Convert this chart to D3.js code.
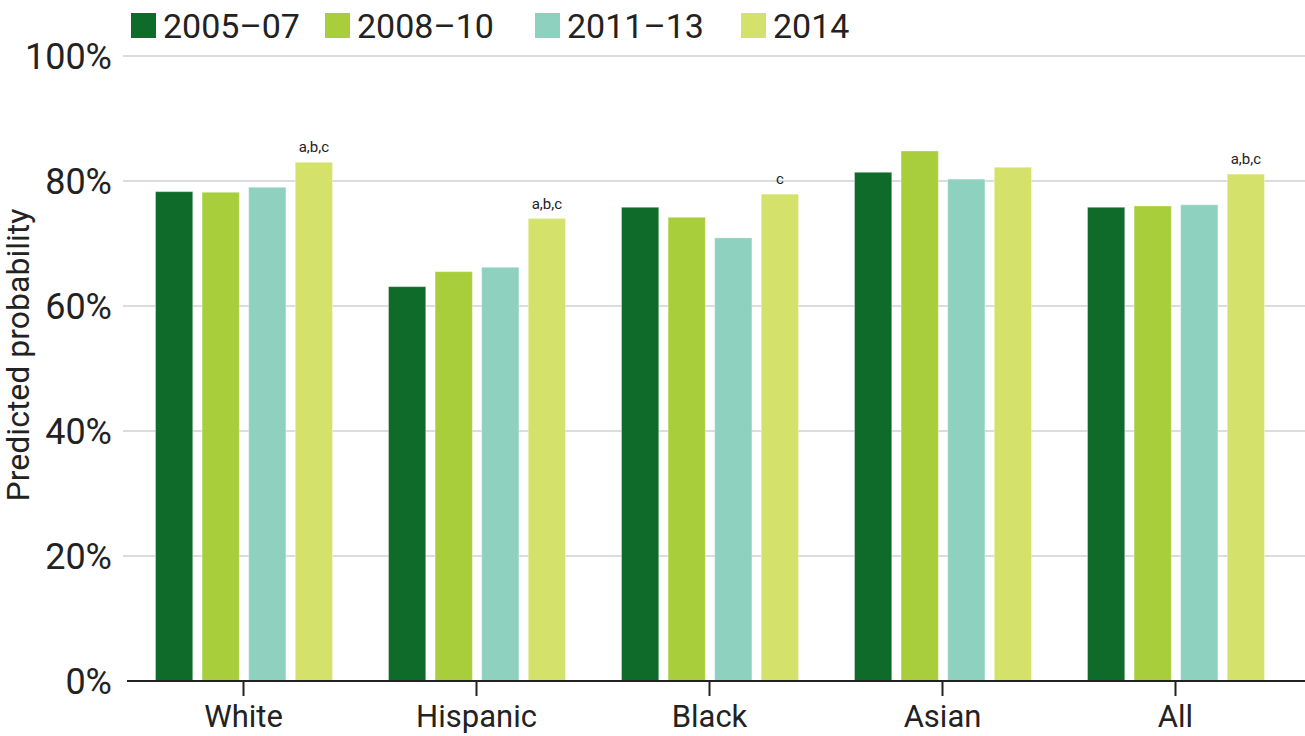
<!DOCTYPE html>
<html><head><meta charset="utf-8">
<script src="https://cdn.jsdelivr.net/npm/d3@7"></script>
<style>body{margin:0;background:#fff}svg{display:block}</style>
</head><body>
<svg id="c" width="1305" height="736"></svg>
<script>
const categories = ["White","Hispanic","Black","Asian","All"];
const seriesNames = ["2005–07","2008–10","2011–13","2014"];
const colors = ["#0f6b2a","#a8cf3b","#8ed1be","#d4e26b"];
const v2005_07 = [78.3, 63.1, 75.8, 81.4, 75.8];
const v2008_10 = [78.2, 65.5, 74.2, 84.8, 76.0];
const v2011_13 = [79.0, 66.2, 70.9, 80.3, 76.2];
const v2014    = [83.0, 74.0, 77.9, 82.2, 81.1];
const notes2014 = ["a,b,c","a,b,c","c","","a,b,c"];
const yTicks = [0,20,40,60,80,100];
const values = [v2005_07, v2008_10, v2011_13, v2014];

const font = "Roboto, 'Noto Sans', sans-serif";
const svg = d3.select("#c");
const y = d3.scaleLinear().domain([0,100]).range([681,56]);
const x0 = d3.scaleBand().domain(categories).range([127,1292]);
const x1 = d3.scaleBand().domain(seriesNames).range([28.5,205.5]).paddingInner(0.2);

// gridlines
svg.append("g").selectAll("line").data(yTicks.filter(t=>t>0)).join("line")
  .attr("x1",123).attr("x2",1305).attr("y1",d=>y(d)).attr("y2",d=>y(d))
  .attr("stroke","#dcdcdc").attr("stroke-width",2);

// y labels
svg.append("g").selectAll("text").data(yTicks).join("text")
  .attr("x",112).attr("y",d=>y(d)).attr("dy","0.36em").attr("text-anchor","end")
  .attr("font-family",font).attr("font-size",36).attr("fill","#222")
  .text(d=>d+"%");

// bars
const groups = svg.append("g").selectAll("g").data(categories).join("g")
  .attr("transform",c=>`translate(${x0(c)},0)`);
groups.each(function(c,ci){
  const g = d3.select(this);
  seriesNames.forEach((s,si)=>{
    const v = values[si][ci];
    g.append("rect").attr("x",x1(s)).attr("width",x1.bandwidth())
      .attr("y",y(v)).attr("height",y(0)-y(v))
      .attr("fill",colors[si]).attr("stroke","rgba(255,255,255,0.35)").attr("stroke-width",1);
  });
  const n = notes2014[ci];
  if(n){
    const v = values[3][ci];
    g.append("text").attr("x",x1("2014")+x1.bandwidth()/2).attr("y",y(v)-10)
      .attr("text-anchor","middle").attr("font-family",font).attr("font-size",15).attr("fill","#222")
      .text(n);
  }
});

// x axis
const xa = svg.append("g").attr("transform","translate(0,681)");
xa.append("line").attr("x1",127).attr("x2",1305).attr("stroke","#222").attr("stroke-width",2);
xa.selectAll("line.t").data(categories).join("line").attr("class","t")
  .attr("x1",c=>x0(c)+x0.bandwidth()/2).attr("x2",c=>x0(c)+x0.bandwidth()/2)
  .attr("y1",0).attr("y2",15).attr("stroke","#222").attr("stroke-width",2);
xa.selectAll("text").data(categories).join("text")
  .attr("x",c=>x0(c)+x0.bandwidth()/2).attr("y",46).attr("text-anchor","middle")
  .attr("font-family",font).attr("font-size",31).attr("fill","#222").text(c=>c);

// y title
svg.append("text").attr("transform","translate(29,355) rotate(-90)")
  .attr("text-anchor","middle").attr("font-family",font).attr("font-size",32).attr("fill","#222")
  .text("Predicted probability");

// legend
const legX = [131,325,535,741];
const leg = svg.append("g").selectAll("g").data(seriesNames).join("g")
  .attr("transform",(d,i)=>`translate(${legX[i]},13)`);
leg.append("rect").attr("width",25).attr("height",25).attr("fill",(d,i)=>colors[i]);
leg.append("text").attr("x",32).attr("y",12.5).attr("dy","0.36em")
  .attr("font-family",font).attr("font-size",34).attr("fill","#222").text(d=>d);
</script>
</body></html>
